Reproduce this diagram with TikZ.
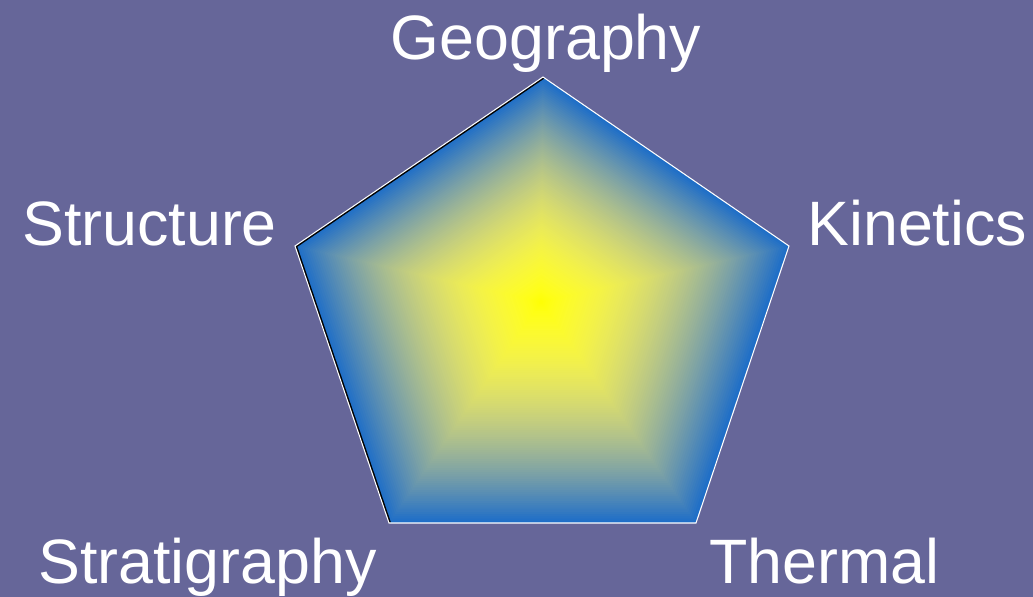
\documentclass[tikz,border=0pt]{standalone}
\usepackage{fontspec}
\setmainfont{Liberation Sans}
\usetikzlibrary{calc}
\definecolor{bgpurple}{RGB}{102,102,153}
\tikzset{
  topic/.style={white, inner sep=0pt, font=\fontsize{35.7}{40}\selectfont},
}
\begin{document}
\begin{tikzpicture}[x=0.02cm, y=-0.02cm]
    % fond
    \fill[bgpurple] (0,0) rectangle (1033,597);
    \useasboundingbox (0,0) rectangle (1033,597);
    % sommets du pentagone
    \coordinate (geo) at (543,77);
    \coordinate (kin) at (789,246);
    \coordinate (thm) at (696,523);
    \coordinate (stg) at (389,523);
    \coordinate (stc) at (295,246);
    \coordinate (mid) at (541,302);
    % degrade bleu -> jaune
    \foreach \i in {100,...,1}{
        \pgfmathsetmacro\s{\i/100}
        \pgfmathtruncatemacro\r{255-225*pow(\s,2.2)}
        \pgfmathtruncatemacro\g{255-145*pow(\s,1.8)}
        \pgfmathtruncatemacro\b{200*pow(\s,0.75)}
        \definecolor{stepcol}{RGB}{\r,\g,\b}
        \fill[stepcol] ($(mid)!\s!(geo)$) -- ($(mid)!\s!(kin)$) -- ($(mid)!\s!(thm)$) -- ($(mid)!\s!(stg)$) -- ($(mid)!\s!(stc)$) -- cycle;
    }
    % bords
    \begin{scope}
        \clip (geo) -- (kin) -- (thm) -- (stg) -- (stc) -- cycle;
        \draw[black, line width=2.3pt] (stg) -- (stc) -- (geo);
    \end{scope}
    \draw[white, line width=0.6pt] (geo) -- (kin) -- (thm) -- (stg) -- (stc) -- cycle;
    % etiquettes
    \node[topic, anchor=base] (geolab) at (546,60) {Geography};
    \node[topic, anchor=base west] (kinlab) at (807,246) {Kinetics};
    \node[topic, anchor=base west] (stclab) at (22,246) {Structure};
    \node[topic, anchor=base west] (stglab) at (38,583) {Stratigraphy};
    \node[topic, anchor=base west] (thmlab) at (709,583) {Thermal};
\end{tikzpicture}
\end{document}
